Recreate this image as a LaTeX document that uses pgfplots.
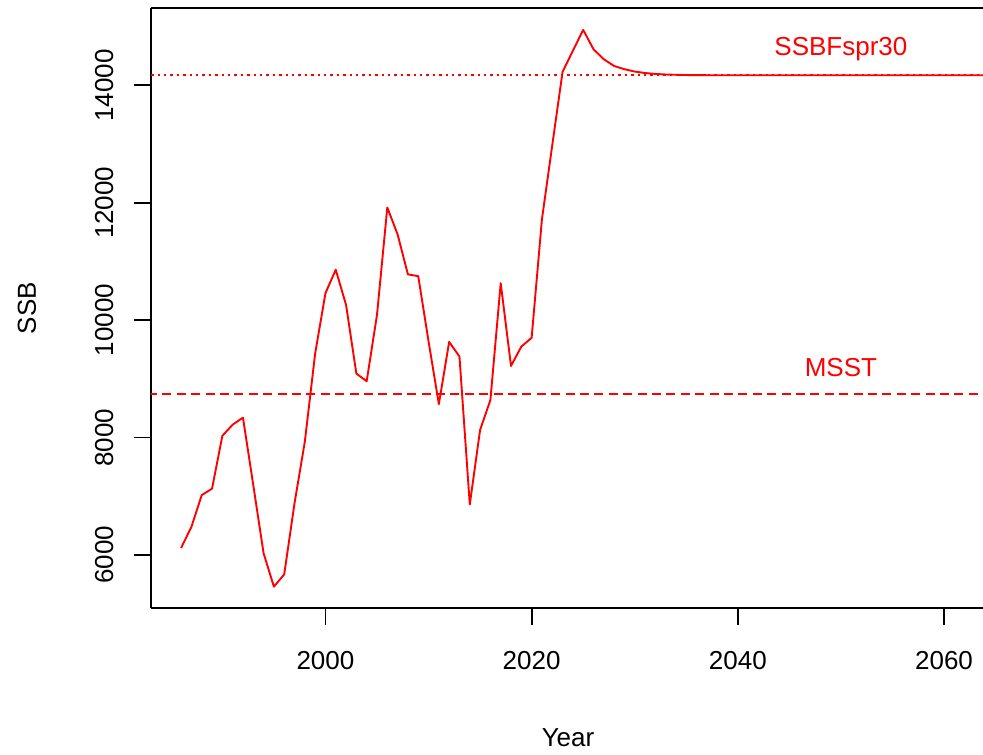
\documentclass[border=0pt]{standalone}
\usepackage{pgfplots}
\pgfplotsset{compat=1.18}
\usepackage{fontspec}
\setmainfont{Liberation Sans}
\definecolor{rred}{RGB}{255,0,0}
\newcommand{\ff}{\fontsize{13}{15.6}\selectfont}
\begin{document}
\begin{tikzpicture}
\useasboundingbox (0,0) rectangle (491.5pt,377pt);
\begin{axis}[
  at={(75.35pt,73pt)}, anchor=south west,
  scale only axis, width=416.25pt, height=300pt,
  xmin=1983.05, xmax=2063.8, ymin=5097, ymax=15318,
  axis x line*=bottom, axis y line*=left,
  axis line style={black, line width=0.9pt},
  xtick={2000,2020,2040,2060}, ytick={6000,8000,10000,12000,14000},
  scaled ticks=false,
  tick align=outside, major tick length=8.5pt,
  tick style={black, line width=0.9pt},
  /pgf/number format/assume math mode=true,
  /pgf/number format/1000 sep={},
  xticklabel style={font=\ff, anchor=base, inner sep=0pt, yshift=-22.15pt},
  yticklabel style={font=\ff, xshift=-10.25pt, rotate=90, anchor=base, inner sep=0pt},
  xlabel={Year}, ylabel={SSB},
  xlabel style={font=\ff, at={(axis description cs:0.5013,-0.2167)}, anchor=center, inner sep=0pt},
  ylabel style={font=\ff, at={(axis description cs:-0.1486,0.5)}, anchor=center, inner sep=0pt, rotate=0},
  clip=true,
]
\addplot[rred, line width=0.8pt, dotted, dash pattern=on 1.2pt off 2pt] coordinates {(1980,14172) (2070,14172)};
\addplot[rred, line width=0.8pt, dash pattern=on 4.5pt off 2.7pt] coordinates {(1980,8740) (2070,8740)};
\addplot[rred, line width=0.95pt, line join=round] coordinates {
(1986,6120) (1987,6480) (1988,7020) (1989,7130) (1990,8030) (1991,8220) (1992,8340)
(1993,7190) (1994,6030) (1995,5460) (1996,5670) (1997,6880) (1998,7930) (1999,9430)
(2000,10460) (2001,10860) (2002,10260) (2003,9090) (2004,8960) (2005,10090) (2006,11920)
(2007,11460) (2008,10780) (2009,10750) (2010,9640) (2011,8570) (2012,9630) (2013,9380)
(2014,6860) (2015,8130) (2016,8640) (2017,10630) (2018,9220) (2019,9550) (2020,9700)
(2021,11720) (2022,12980) (2023,14230) (2024,14590) (2025,14945) (2026,14615) (2027,14445)
(2028,14330) (2029,14275) (2030,14235) (2031,14210) (2032,14195) (2033,14185) (2034,14180)
(2035,14176) (2036,14174) (2037,14173) (2038,14172) (2045,14172) (2055,14172) (2070,14172)
};
\draw[black, line width=0.9pt] (rel axis cs:0,1) -- (rel axis cs:1,1);
\node[rred, font=\ff, anchor=base, inner sep=0pt] at (axis cs:2050,14513) {SSBFspr30};
\node[rred, font=\ff, anchor=base, inner sep=0pt] at (axis cs:2050,9041) {MSST};
\end{axis}
\end{tikzpicture}
\end{document}
